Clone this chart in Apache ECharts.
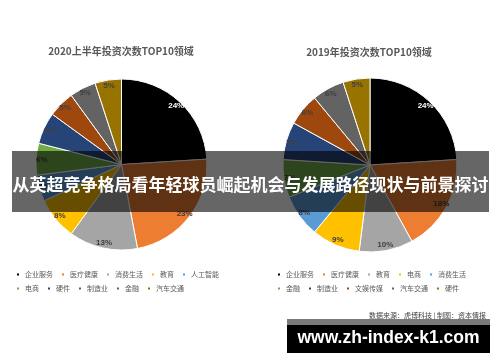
<!DOCTYPE html>
<html><head><meta charset="utf-8">
<script src="https://cdn.jsdelivr.net/npm/echarts@6/dist/echarts.min.js"></script>
<style>html,body{margin:0;padding:0;background:#fff}#c{width:500px;height:362px}</style>
</head><body><div id="c"></div>
<script>
const title2020 = '2020上半年投资次数TOP10领域';
const title2019 = '2019年投资次数TOP10领域';
const cats2020 = ['企业服务','医疗健康','消费生活','教育','人工智能','电商','硬件','制造业','金融','汽车交通'];
const vals2020 = [24, 23, 13, 8, 5, 6, 6, 5, 5, 5];
const cats2019 = ['企业服务','医疗健康','教育','电商','消费生活','金融','制造业','文娱传媒','汽车交通','硬件'];
const vals2019 = [24, 18, 10, 9, 8, 7, 7, 6, 6, 5];
const palette = ['#000000','#ED7D31','#A5A5A5','#FFC000','#5B9BD5','#70AD47','#264478','#9E480E','#636363','#997300'];
const bannerText = '从英超竞争格局看年轻球员崛起机会与发展路径现状与前景探讨';
const sourceText = '数据来源：虎博科技 | 制图：资本情报';
const watermark = 'www.zh-index-k1.com';

const CJK = '"Noto Sans CJK SC", "Noto Sans", sans-serif';

function pies(center, r, names, vals) {
  const data = names.map((n, i) => ({ name: n, value: vals[i], itemStyle: { color: palette[i] } }));
  const main = {
    type: 'pie', center: center, radius: [0, r], startAngle: 90, clockwise: true,
    data: data, silent: true, animation: false,
    itemStyle: { borderColor: '#fff', borderWidth: 1 },
    label: { show: false }, labelLine: { show: false }, emphasis: { disabled: true }
  };
  const lab = {
    type: 'pie', center: center, radius: [r * 0.8, r], startAngle: 90, clockwise: true,
    silent: true, animation: false, z: 3,
    data: names.map((n, i) => ({ name: n, value: vals[i],
      label: { color: i === 0 ? '#ffffff' : '#404040' } })),
    itemStyle: { color: 'rgba(0,0,0,0)', borderWidth: 0 },
    label: { show: true, position: 'inside', formatter: '{c}%', fontSize: 8, fontWeight: 'bold', fontFamily: 'Liberation Sans, Arial, sans-serif' },
    labelLine: { show: false }, emphasis: { disabled: true }
  };
  return [main, lab];
}

function legendRow(names, allNames, left, top, tw) {
  return {
    left: left, top: top, orient: 'horizontal', itemWidth: 4, itemHeight: 4, itemGap: 7,
    selectedMode: false, padding: 0,
    formatter: '{a|{name}}',
    textStyle: { fontSize: 7, color: '#595959', fontFamily: CJK,
      rich: { a: { width: tw, fontSize: 7, color: '#595959', fontFamily: CJK } } },
    data: names.map(n => ({ name: n, icon: 'rect', itemStyle: { color: palette[allNames.indexOf(n)] } }))
  };
}

const chart = echarts.init(document.getElementById('c'), null, { renderer: 'canvas' });
chart.setOption({
  backgroundColor: '#ffffff',
  animation: false,
  title: [
    { text: title2020, left: 121, top: 46, textAlign: 'center', padding: 0,
      textStyle: { fontSize: 10, fontWeight: 'bold', color: '#595959', fontFamily: CJK } },
    { text: title2019, left: 369, top: 47, textAlign: 'center', padding: 0,
      textStyle: { fontSize: 10, fontWeight: 'bold', color: '#595959', fontFamily: CJK } }
  ],
  legend: [
    legendRow(cats2020.slice(0, 5), cats2020, 15, 271, 32),
    legendRow(cats2020.slice(5), cats2020, 15, 285, 32),
    legendRow(cats2019.slice(0, 5), cats2019, 276, 271, 29),
    legendRow(cats2019.slice(5), cats2019, 276, 285, 29)
  ],
  series: [].concat(
    pies([121.5, 164.5], 85.5, cats2020, vals2020),
    pies([370, 165], 87, cats2019, vals2019)
  ),
  graphic: [
    { type: 'rect', z: 100, shape: { x: 12, y: 151, width: 477, height: 61 },
      style: { fill: 'rgba(0,0,0,0.6)' } },
    { type: 'text', z: 101, x: 250.5, y: 185,
      style: { text: bannerText, fill: '#ffffff', font: 'bold 17px ' + CJK, textAlign: 'center', textVerticalAlign: 'middle' } },
    { type: 'text', z: 101, x: 486, y: 315,
      style: { text: sourceText, fill: '#404040', font: '7px ' + CJK, textAlign: 'right', textVerticalAlign: 'middle' } },
    { type: 'rect', z: 100, shape: { x: 287, y: 319, width: 203, height: 6 }, style: { fill: '#7a7a7a' } },
    { type: 'rect', z: 100, shape: { x: 287, y: 325, width: 203, height: 28 }, style: { fill: '#000000' } },
    { type: 'text', z: 101, x: 388.5, y: 338,
      style: { text: watermark, fill: '#ffffff', font: 'bold 17.5px "Liberation Sans", Arial, sans-serif', textAlign: 'center', textVerticalAlign: 'middle' } }
  ]
});
</script></body></html>
